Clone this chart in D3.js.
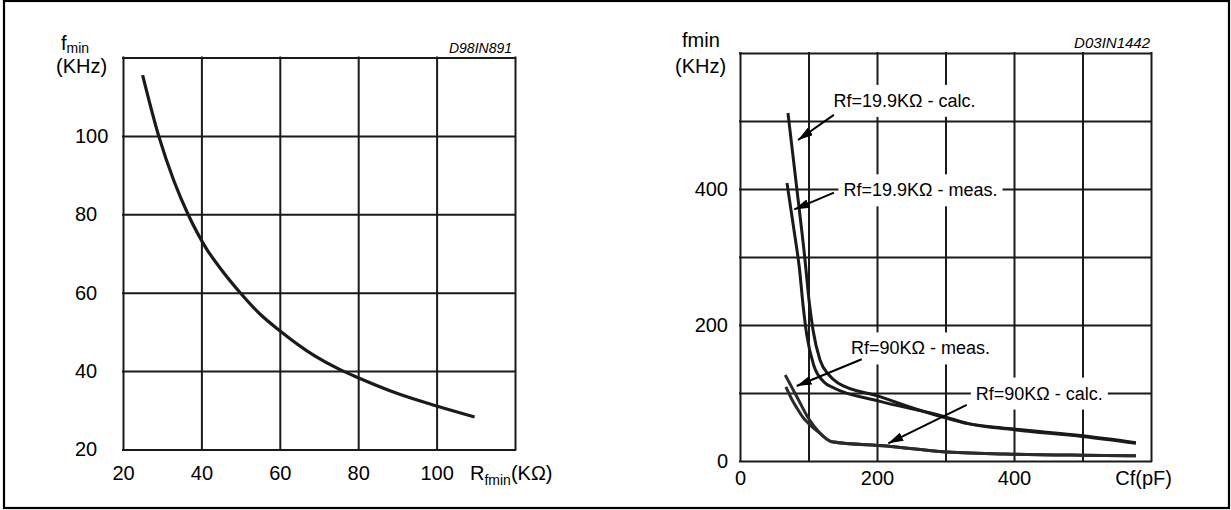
<!DOCTYPE html>
<html>
<head>
<meta charset="utf-8">
<script src="https://cdn.jsdelivr.net/npm/d3@7"></script>
<style>
body { margin: 0; background: #fff; }
svg { display: block; font-family: Arial, "Liberation Sans", sans-serif; }
</style>
</head>
<body>
<div id="container"></div>
<script>
// left chart: fmin vs Rfmin
const leftR = [25, 29.1, 33, 36.5, 41.3, 45, 49.9, 55, 60, 68.7, 75.5, 80, 90.2, 100, 109.7]
const leftF = [115.5, 100, 88.5, 80.2, 71.2, 66, 60, 54.5, 50.3, 44, 40.3, 38.3, 34.2, 31.1, 28.3]
const leftXTicks = [20, 40, 60, 80, 100]
const leftYTicks = [20, 40, 60, 80, 100]

// right chart: fmin vs Cf, four curves
const calc199Cf = [70, 83.2, 94.9, 100.7, 106.6, 116.8, 129.9, 143, 203, 261, 333, 400, 500, 578]
const calc199F = [511.8, 398.5, 295.6, 236.8, 192.6, 148.5, 126.5, 114.7, 95, 75, 55, 47, 37, 27]
const meas199Cf = [68.6, 78.8, 87, 92, 97.5, 107.5, 122.5, 137.2, 203, 296, 333, 400, 500, 578]
const meas199F = [408.8, 339.7, 280.9, 229.4, 185.3, 141.2, 116.2, 107.4, 88, 66, 55, 46, 36, 26]
const meas90Cf = [66, 83, 100, 115, 134, 214, 296, 388, 500, 578]
const meas90F = [126.5, 94.6, 62.8, 43, 28.4, 22, 13.7, 10.3, 8.5, 7.8]
const calc90Cf = [67, 75, 83, 92, 100, 115, 134, 214, 296, 388, 500, 578]
const calc90F = [109, 92, 78, 64, 55.4, 42, 28.4, 22, 13.7, 10.3, 8.5, 7.8]
const rightXTicks = [0, 200, 400]
const rightYTicks = [0, 200, 400]

// annotations (data units)
const noteText = ["Rf=19.9KΩ - calc.", "Rf=19.9KΩ - meas.", "Rf=90KΩ - meas.", "Rf=90KΩ - calc."]
const noteCf = [240, 263.5, 263.5, 437]
const noteF = [530, 398.5, 166, 99.6]
const tailCf = [137, 137.2, 177.7, 331]
const tailF = [509, 394.6, 149.6, 82.4]
const tipCf = [84.7, 79.3, 82.8, 216.5]
const tipF = [472, 370, 110.3, 26]

const width = 1231
const height = 510
const ink = "#1a1a1a"

const svg = d3.select("#container").append("svg")
    .attr("width", width)
    .attr("height", height)

svg.append("rect")
    .attr("x", 4).attr("y", 1)
    .attr("width", 1225).attr("height", 507)
    .attr("fill", "none")
    .attr("stroke", "#000")
    .attr("stroke-width", 2.2)

svg.append("defs").append("marker")
    .attr("id", "arrow")
    .attr("markerUnits", "userSpaceOnUse")
    .attr("markerWidth", 15).attr("markerHeight", 9)
    .attr("refX", 15).attr("refY", 4.5)
    .attr("orient", "auto")
    .append("path")
    .attr("d", "M0,0 L15,4.5 L0,9 Z")
    .attr("fill", "#000")

function drawGrid(x, y, xStep, yStep){
    const [x0, x1] = x.domain()
    const [y0, y1] = y.domain()
    const g = svg.append("g")
    g.append("g")
        .attr("transform", `translate(0, ${y.range()[0]})`)
        .call(d3.axisBottom(x).tickValues(d3.range(x0, x1 + 1, xStep))
            .tickSize(-(y.range()[0] - y.range()[1])).tickFormat(""))
    g.append("g")
        .attr("transform", `translate(${x.range()[0]}, 0)`)
        .call(d3.axisLeft(y).tickValues(d3.range(y0, y1 + 1, yStep))
            .tickSize(-(x.range()[1] - x.range()[0])).tickFormat(""))
    g.selectAll(".domain").remove()
    g.selectAll("line")
        .attr("stroke", ink)
        .attr("stroke-width", 2)
        .attr("stroke-linecap", "square")
}

function styleLabels(g){
    g.attr("font-family", null).attr("font-size", 20)
    g.selectAll(".domain").remove()
    g.selectAll("text").attr("fill", "#000")
}

// ---------- left chart ----------
const xL = d3.scaleLinear().domain([20, 120]).range([123, 515])
const yL = d3.scaleLinear().domain([20, 120]).range([449.5, 57.5])

drawGrid(xL, yL, 20, 20)

const lineL = d3.line()
    .x((d, i) => xL(leftR[i]))
    .y(d => yL(d))
    .curve(d3.curveMonotoneX)

svg.append("path")
    .datum(leftF)
    .attr("d", lineL)
    .attr("fill", "none")
    .attr("stroke", ink)
    .attr("stroke-width", 3.2)

svg.append("g")
    .attr("transform", `translate(0, ${yL.range()[0]})`)
    .call(d3.axisBottom(xL).tickValues(leftXTicks).tickSize(0).tickPadding(16))
    .call(styleLabels)

svg.append("g")
    .attr("transform", `translate(${xL.range()[0]}, 0)`)
    .call(d3.axisLeft(yL).tickValues(leftYTicks).tickSize(0))
    .call(styleLabels)
    .selectAll("text")
    .attr("x", 75 - 123)
    .attr("text-anchor", "start")

const fL = svg.append("text").attr("x", 61).attr("y", 50).attr("font-size", 20).text("f")
fL.append("tspan").attr("font-size", 14).attr("dy", 3).text("min")
svg.append("text").attr("x", 56).attr("y", 73).attr("font-size", 20).text("(KHz)")

const rL = svg.append("text").attr("x", 470).attr("y", 480).attr("font-size", 20).text("R")
rL.append("tspan").attr("font-size", 14).attr("dy", 5).text("fmin")
rL.append("tspan").attr("dy", -5).text("(KΩ)")

svg.append("text")
    .attr("x", 512).attr("y", 53)
    .attr("text-anchor", "end")
    .attr("font-size", 14)
    .attr("font-style", "italic")
    .text("D98IN891")

// ---------- right chart ----------
const xR = d3.scaleLinear().domain([0, 600]).range([740, 1151])
const yR = d3.scaleLinear().domain([0, 600]).range([461, 53])

drawGrid(xR, yR, 100, 100)

svg.append("g")
    .attr("transform", `translate(0, ${yR.range()[0]})`)
    .call(d3.axisBottom(xR).tickValues(rightXTicks).tickSize(0).tickPadding(9.5))
    .call(styleLabels)

svg.append("g")
    .attr("transform", `translate(${xR.range()[0]}, 0)`)
    .call(d3.axisLeft(yR).tickValues(rightYTicks).tickSize(0).tickPadding(12))
    .call(styleLabels)

svg.append("text").attr("x", 682).attr("y", 46.5).attr("font-size", 20).text("fmin")
svg.append("text").attr("x", 675).attr("y", 73).attr("font-size", 20).text("(KHz)")
svg.append("text").attr("x", 1172).attr("y", 484.7).attr("text-anchor", "end").attr("font-size", 20).text("Cf(pF)")

svg.append("text")
    .attr("x", 1150).attr("y", 48)
    .attr("text-anchor", "end")
    .attr("font-size", 15)
    .attr("font-style", "italic")
    .text("D03IN1442")

const curves = [
    {cf: calc199Cf, f: calc199F, color: ink},
    {cf: meas199Cf, f: meas199F, color: ink},
    {cf: meas90Cf, f: meas90F, color: "#2b2b2b"},
    {cf: calc90Cf, f: calc90F, color: "#2b2b2b"}
]

svg.append("g").selectAll("path")
    .data(curves)
    .enter().append("path")
    .attr("d", c => d3.line()
        .x((d, i) => xR(c.cf[i]))
        .y(d => yR(d))
        .curve(d3.curveMonotoneX)(c.f))
    .attr("fill", "none")
    .attr("stroke", c => c.color)
    .attr("stroke-width", 3)

// notes with white boxes and arrows
const notes = svg.append("g")
noteText.forEach((t, i) => {
    const g = notes.append("g")
    const box = g.append("rect").attr("fill", "#fff")
    const txt = g.append("text")
        .attr("x", xR(noteCf[i]))
        .attr("y", yR(noteF[i]))
        .attr("dy", "0.35em")
        .attr("text-anchor", "middle")
        .attr("font-size", 18)
        .text(t)
    const bb = txt.node().getBBox()
    box.attr("x", bb.x - 5).attr("y", bb.y - 6)
        .attr("width", bb.width + 10).attr("height", bb.height + 12)
    g.append("line")
        .attr("x1", xR(tailCf[i])).attr("y1", yR(tailF[i]))
        .attr("x2", xR(tipCf[i])).attr("y2", yR(tipF[i]))
        .attr("stroke", "#000")
        .attr("stroke-width", 2)
        .attr("marker-end", "url(#arrow)")
})
</script>
</body>
</html>
